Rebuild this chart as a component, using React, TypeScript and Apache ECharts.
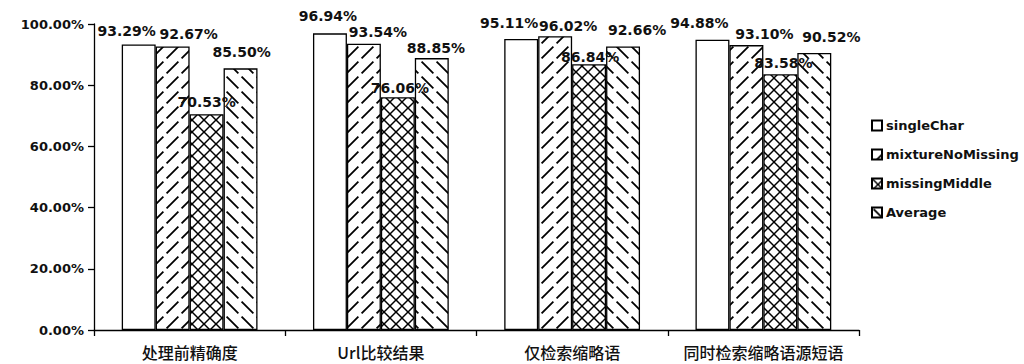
import React, { useEffect, useRef } from "react";
import * as echarts from "echarts";

const categories = ["处理前精确度", "Url比较结果", "仅检索缩略语", "同时检索缩略语源短语"];
const seriesNames = ["singleChar", "mixtureNoMissing", "missingMiddle", "Average"];
const singleChar = [93.29, 96.94, 95.11, 94.88];
const mixtureNoMissing = [92.67, 93.54, 96.02, 93.1];
const missingMiddle = [70.53, 76.06, 86.84, 83.58];
const average = [85.5, 88.85, 92.66, 90.52];
const yTicks = [0, 20, 40, 60, 80, 100];

// label nudges (layout only), per series then per category
const labelDx = [
  [-12, -2, -12, -13],
  [16, 14, 13, 18],
  [0, 2, 1, 3],
  [1, 4, 14, 17],
];
const labelDy = [
  [-2, -5, -4, -5],
  [0, 0, 2, 1],
  [0, 3, 5, 1],
  [-4, 2, -4, -4],
];

type Kind = "plain" | "fwd" | "cross" | "back";

function makeTile(kind: Kind): any {
  if (kind === "plain") return "#ffffff";
  const s = kind === "cross" ? 12 : 15;
  const c = document.createElement("canvas");
  c.width = s;
  c.height = s;
  const ctx = c.getContext("2d")!;
  ctx.fillStyle = "#ffffff";
  ctx.fillRect(0, 0, s, s);
  ctx.strokeStyle = "#000000";
  ctx.lineCap = "butt";
  const g = 1.6;
  if (kind === "fwd") {
    ctx.lineWidth = 1.8;
    ctx.beginPath();
    ctx.moveTo(g, s - g);
    ctx.lineTo(s - g, g);
    ctx.stroke();
  } else if (kind === "back") {
    ctx.lineWidth = 1.8;
    ctx.beginPath();
    ctx.moveTo(g, g);
    ctx.lineTo(s - g, s - g);
    ctx.stroke();
  } else {
    ctx.lineWidth = 1.5;
    for (const k of [-s, 0, s]) {
      ctx.beginPath();
      ctx.moveTo(-2 + k, s + 2);
      ctx.lineTo(s + 2 + k, -2);
      ctx.stroke();
      ctx.beginPath();
      ctx.moveTo(-2 + k, -2);
      ctx.lineTo(s + 2 + k, s + 2);
      ctx.stroke();
    }
  }
  return { image: c, repeat: "repeat", imageWidth: s, imageHeight: s };
}

export default function App() {
  const ref = useRef<HTMLDivElement>(null);

  useEffect(() => {
    if (!ref.current) return;
    const chart = echarts.init(ref.current, null, { renderer: "svg" });
    const kinds: Kind[] = ["plain", "fwd", "cross", "back"];
    const datasets = [singleChar, mixtureNoMissing, missingMiddle, average];

    const series = datasets.map((vals, si) => ({
      name: seriesNames[si],
      type: "bar",
      barGap: "0%",
      barCategoryGap: "29%",
      itemStyle: {
        color: makeTile(kinds[si]),
        borderColor: "#000000",
        borderWidth: 1.3,
      },
      data: vals.map((v, ci) => ({
        value: v,
        label: {
          show: true,
          position: "top",
          offset: [labelDx[si][ci], labelDy[si][ci]],
          formatter: (p: any) => Number(p.value).toFixed(2) + "%",
          fontFamily: "DejaVu Sans",
          fontWeight: "bold",
          fontSize: 14,
          color: "#111111",
        },
      })),
    }));

    chart.setOption({
      animation: false,
      backgroundColor: "#ffffff",
      grid: { left: 94, right: 165, top: 24, bottom: 34, containLabel: false },
      legend: {
        orient: "vertical",
        left: 866,
        top: 114,
        itemWidth: 10,
        itemHeight: 10,
        itemGap: 16,
        icon: "rect",
        data: seriesNames,
        textStyle: {
          fontFamily: "DejaVu Sans",
          fontWeight: "bold",
          fontSize: 13,
          color: "#111111",
          padding: [0, 0, 0, -1],
        },
      },
      xAxis: {
        type: "category",
        data: categories,
        axisLine: { lineStyle: { color: "#000000", width: 1.3 } },
        axisTick: { show: true, length: 6, lineStyle: { color: "#000000", width: 1.3 } },
        axisLabel: {
          margin: 14,
          fontFamily: "Noto Sans CJK SC",
          fontSize: 16,
          fontWeight: 500,
          color: "#111111",
          interval: 0,
        },
      },
      yAxis: {
        type: "value",
        min: yTicks[0],
        max: yTicks[yTicks.length - 1],
        interval: yTicks[1] - yTicks[0],
        axisLine: { show: true, lineStyle: { color: "#000000", width: 1.3 } },
        axisTick: { show: true, length: 6, lineStyle: { color: "#000000", width: 1.3 } },
        splitLine: { show: false },
        axisLabel: {
          margin: 10,
          formatter: (v: number) => v.toFixed(2) + "%",
          fontFamily: "DejaVu Sans",
          fontWeight: "bold",
          fontSize: 13,
          color: "#111111",
        },
      },
      series,
    });

    return () => chart.dispose();
  }, []);

  return (
    <div
      ref={ref}
      style={{ position: "absolute", left: 0, top: 0, width: 1024, height: 364, background: "#fff" }}
    />
  );
}
